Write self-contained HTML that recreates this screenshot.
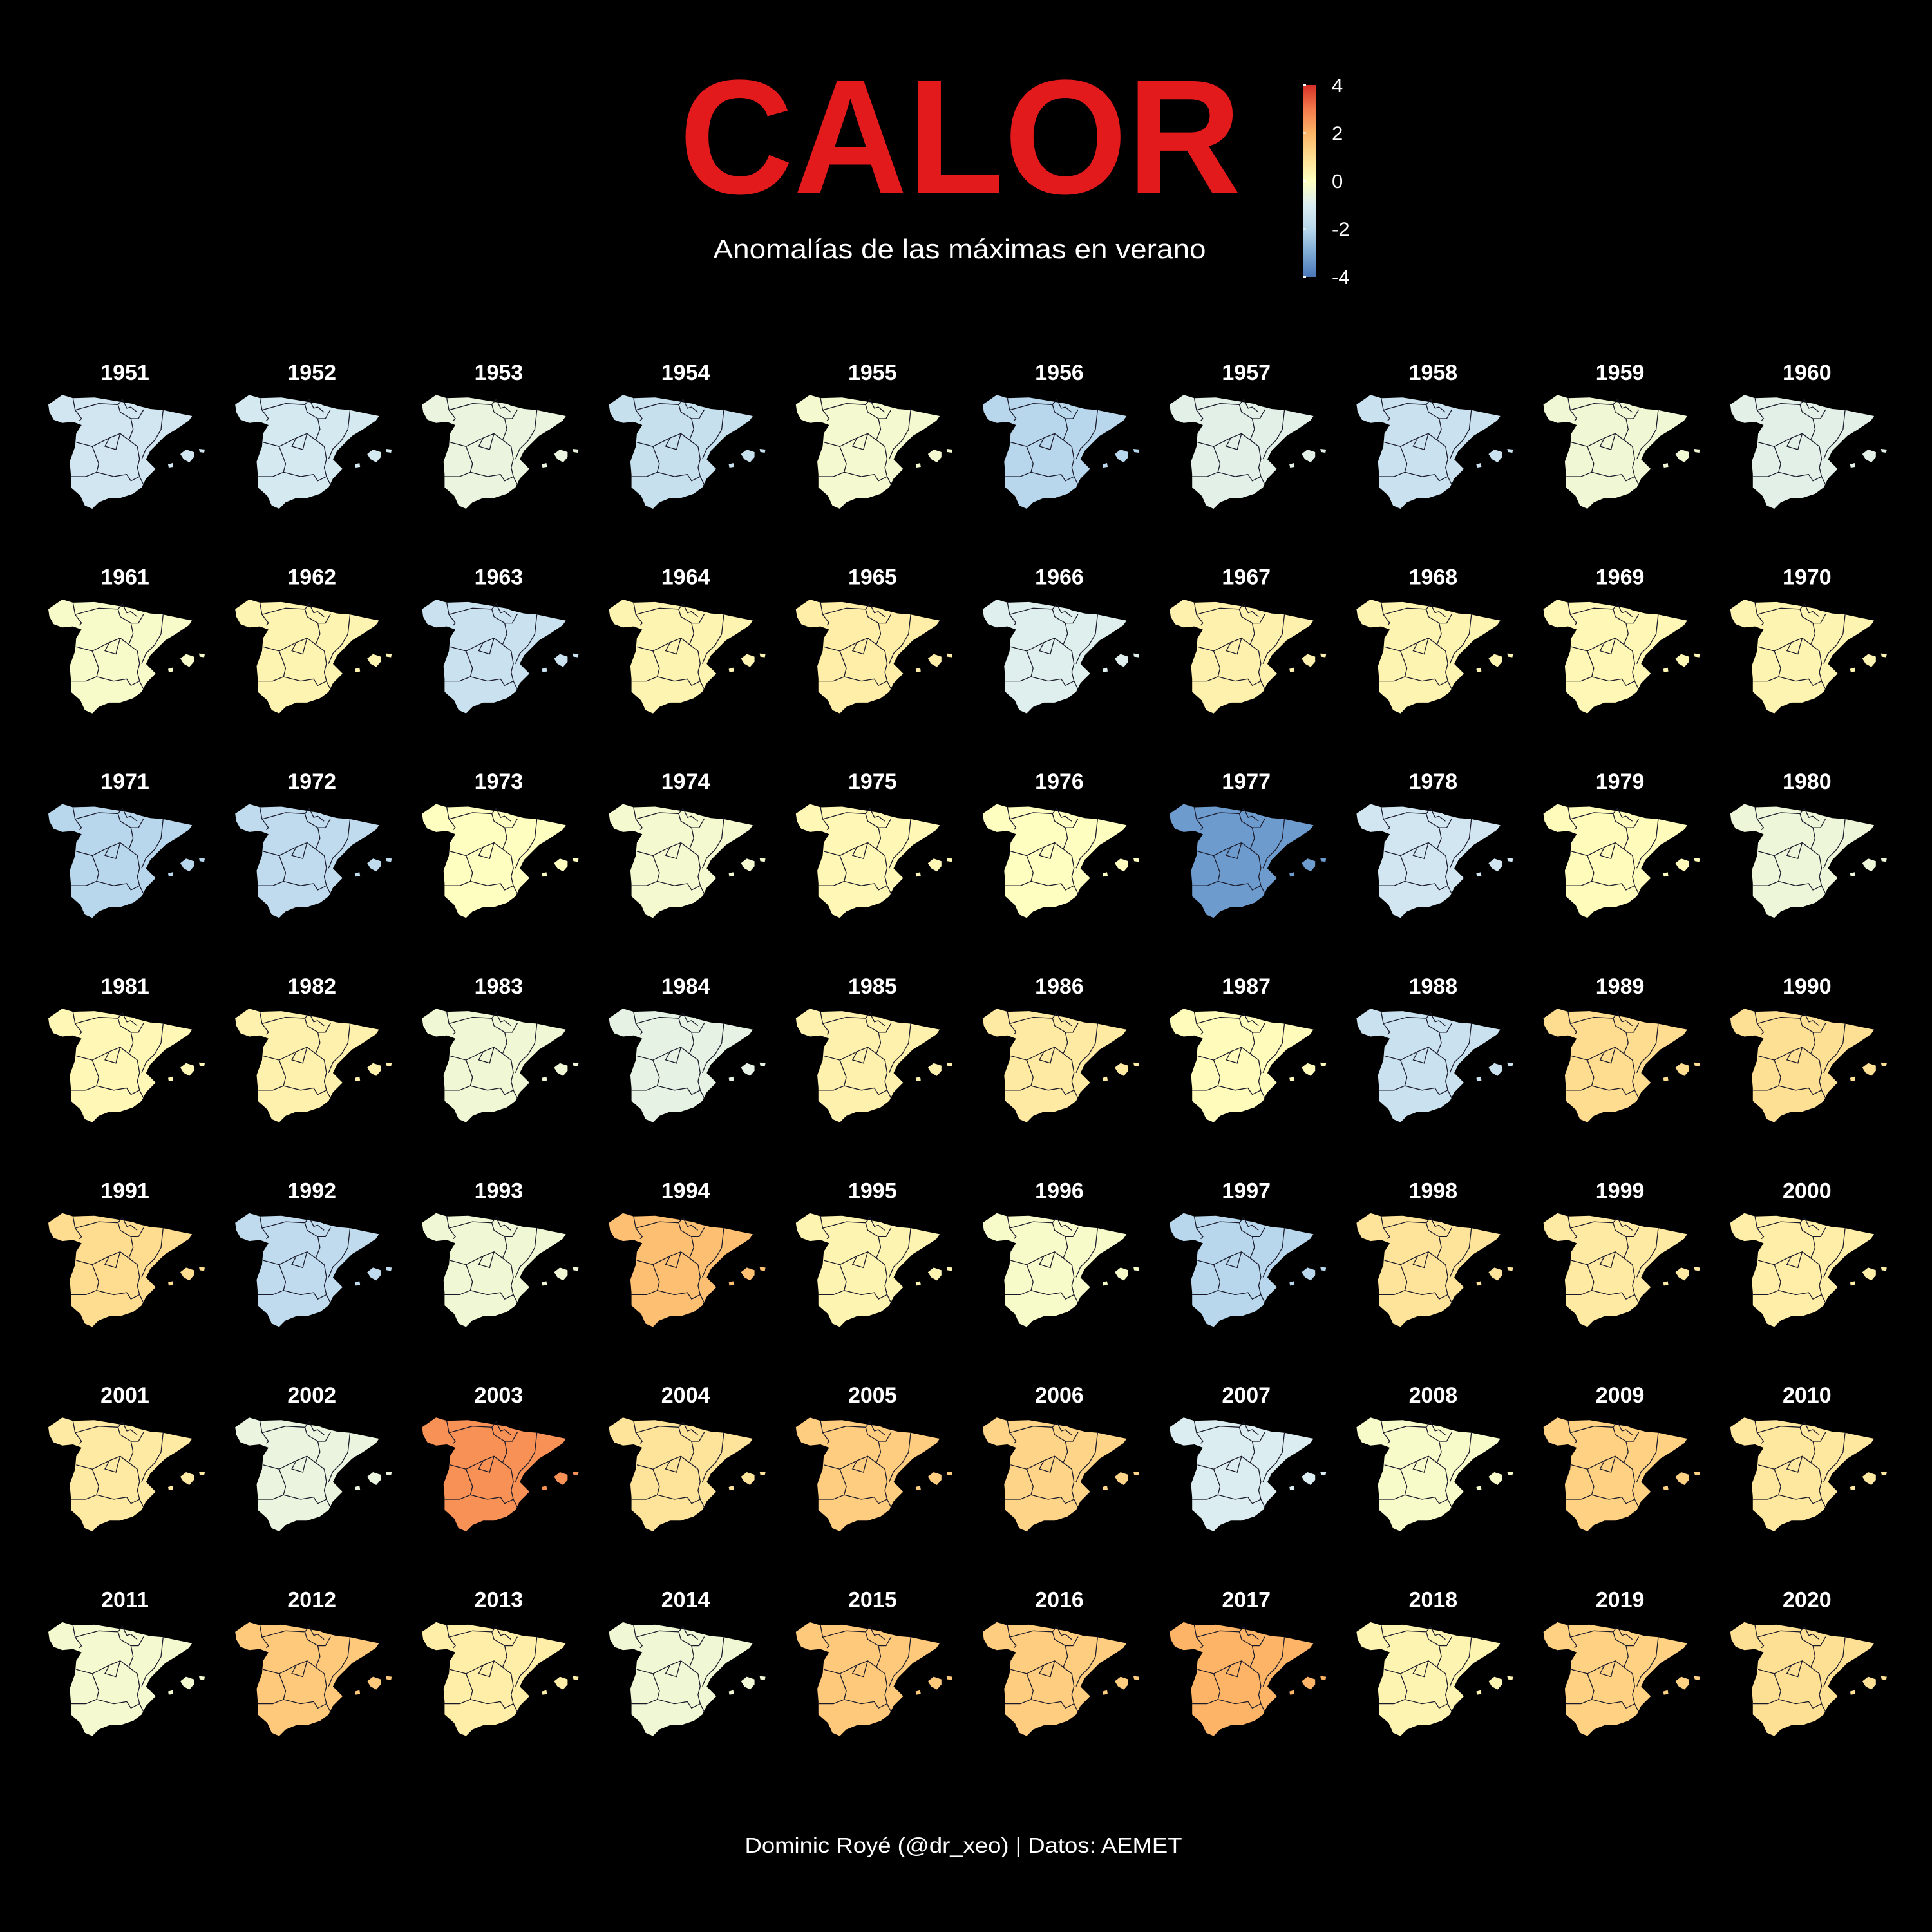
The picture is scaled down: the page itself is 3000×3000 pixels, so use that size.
<!DOCTYPE html>
<html><head><meta charset="utf-8">
<style>
html,body{margin:0;padding:0;background:#000;}
svg{display:block;}
</style></head>
<body>
<svg id="chart" width="3000" height="3000" viewBox="0 0 3000 3000" xmlns="http://www.w3.org/2000/svg">
<rect x="0" y="0" width="3000" height="3000" fill="#000"/>
<defs>
<linearGradient id="cbar" x1="0" y1="1" x2="0" y2="0">
<stop offset="0" stop-color="#4a78b8"/>
<stop offset="0.125" stop-color="#7eaad6"/>
<stop offset="0.25" stop-color="#b8d7ec"/>
<stop offset="0.375" stop-color="#dcedf2"/>
<stop offset="0.5" stop-color="#fefec0"/>
<stop offset="0.625" stop-color="#fedd90"/>
<stop offset="0.75" stop-color="#fdb466"/>
<stop offset="0.875" stop-color="#f47a4c"/>
<stop offset="1" stop-color="#d73027"/>
</linearGradient>
</defs>
<text x="1491" y="300" font-family="Liberation Sans, sans-serif" font-weight="bold" font-size="253" fill="#e31a1c" text-anchor="middle" textLength="873" lengthAdjust="spacingAndGlyphs">CALOR</text>
<text x="1490" y="401" font-family="Liberation Sans, sans-serif" font-size="42" fill="#fff" text-anchor="middle" textLength="765" lengthAdjust="spacingAndGlyphs">Anomalías de las máximas en verano</text>
<g id="legend">
<rect x="2024" y="132" width="19" height="298" fill="url(#cbar)"/>
</g>
<g id="maps"></g>
<text x="1496" y="2877" font-family="Liberation Sans, sans-serif" font-size="33" fill="#fff" text-anchor="middle" textLength="679" lengthAdjust="spacingAndGlyphs">Dominic Royé (@dr_xeo) | Datos: AEMET</text>
</svg>
<script>
const years = [1951,1952,1953,1954,1955,1956,1957,1958,1959,1960,
1961,1962,1963,1964,1965,1966,1967,1968,1969,1970,
1971,1972,1973,1974,1975,1976,1977,1978,1979,1980,
1981,1982,1983,1984,1985,1986,1987,1988,1989,1990,
1991,1992,1993,1994,1995,1996,1997,1998,1999,2000,
2001,2002,2003,2004,2005,2006,2007,2008,2009,2010,
2011,2012,2013,2014,2015,2016,2017,2018,2019,2020];
const anomalies = [-1.3,-1.2,-0.6,-1.6,-0.3,-2.0,-0.8,-1.5,-0.4,-0.8,
-0.2,0.3,-1.5,0.3,0.5,-0.9,0.4,0.3,0.2,0.3,
-2.0,-1.8,0.0,-0.3,0.2,0.0,-3.3,-1.3,0.1,-0.5,
0.2,0.4,-0.4,-0.7,0.4,0.6,0.1,-1.5,1.0,0.9,
1.0,-1.8,-0.4,1.7,0.3,-0.2,-2.0,0.8,0.6,0.5,
0.6,-0.6,2.6,0.8,1.4,1.2,-1.0,-0.2,1.3,0.7,
-0.3,1.5,0.5,-0.4,1.5,1.4,2.0,0.3,1.3,0.9];
const legendTicks = [4,2,0,-2,-4];
const scaleMin = -4, scaleMax = 4;

const NS = 'http://www.w3.org/2000/svg';
const stops = ['#4a78b8','#7eaad6','#b8d7ec','#dcedf2','#fefec0','#fedd90','#fdb466','#f47a4c','#d73027'];
function hex(c){return [1,3,5].map(i=>parseInt(c.substr(i,2),16));}
function colorFor(v){
  let t=(Math.max(scaleMin,Math.min(scaleMax,v))-scaleMin)/(scaleMax-scaleMin)*(stops.length-1);
  let i=Math.min(Math.floor(t),stops.length-2), f=t-i;
  let a=hex(stops[i]), b=hex(stops[i+1]);
  return 'rgb('+a.map((x,k)=>Math.round(x+(b[k]-x)*f)).join(',')+')';
}
const cbTop=132, cbBot=430;
function cbY(v){return cbBot-(v-scaleMin)/(scaleMax-scaleMin)*(cbBot-cbTop);}
const leg=document.getElementById('legend');
legendTicks.forEach(v=>{
  const t=document.createElementNS(NS,'text');
  t.setAttribute('x',2068);t.setAttribute('y',cbY(v)+11);
  t.setAttribute('font-family','Liberation Sans, sans-serif');t.setAttribute('font-size','31');
  t.setAttribute('fill','#fff');t.textContent=v;
  
  
  leg.appendChild(t);
  const l=document.createElementNS(NS,'line');
  l.setAttribute('x1',2024);l.setAttribute('x2',2028);l.setAttribute('y1',cbY(v));l.setAttribute('y2',cbY(v));
  l.setAttribute('stroke','#fff');l.setAttribute('stroke-width','2');
  
  
  leg.appendChild(l);
});
const outline=[[0,16.3],[21.7,1.3],[38.3,6.3],[71.7,5.3],[108.3,11.3],[131.7,15.3],[138.3,18],[158.3,23],[178.3,24.7],[201.7,29.7],[223.3,34],[218.3,41.3],[198.3,54.7],[181.7,64.7],[168.3,78],[158.3,88],[151.7,101.3],[166.7,116.3],[151.7,131.3],[145,144.7],[131.7,154.7],[111.7,161.3],[95,161.3],[78.3,168],[68.3,178],[56.7,173],[50,158],[35,144.7],[35,124.7],[33.3,104.7],[41.7,81.3],[43.3,61.3],[51.7,48],[38.3,43],[21.7,44.7],[8.3,39.7],[1.7,28]];
const islands=[[[205,93],[214,86],[226,90],[226,98],[219,106],[210,101]],[[234,85],[243,86],[242,91],[235,90]],[[186,109],[193,107],[194,113],[187,114]]];
const borders=[
[[38.3,6.3],[41.7,24.7],[51.7,38],[48.3,41.3]],
[[41.7,24.7],[78.3,14.7],[108.3,16.3],[111.7,28],[128.3,38]],
[[128.3,38],[131.7,54.7],[125,71.3],[138.3,81.3]],
[[43.3,74.7],[68.3,81.3],[95,68],[111.7,61.3],[125,71.3]],
[[95,68],[88,81],[105,86],[108,74],[111.7,61.3]],
[[68.3,81.3],[78.3,108],[75,121.3],[58.3,128],[35,128]],
[[75,121.3],[101.7,128],[121.7,124.7],[128.3,134.7],[141.7,128],[148.3,141.3]],
[[138.3,81.3],[141.7,101],[138.3,114],[141.7,128]],
[[148,24],[140,38],[128.3,38]],
[[178.3,24.7],[175,55],[165,72],[151.7,85],[145,101]],
[[108.3,16.3],[115,8],[122,22],[128,20],[138,28]]
];
const pts=a=>a.map(p=>p.join(',')).join(' ');
const mapsG=document.getElementById('maps');
years.forEach((yr,i)=>{
  const col=i%10,row=Math.floor(i/10);
  const ox=75+col*290.2, oy=612+row*317.6;
  const g=document.createElementNS(NS,'g');
  g.setAttribute('transform','translate('+ox+','+oy+')');
  
  
  const c=colorFor(anomalies[i]);
  const lab=document.createElementNS(NS,'text');
  lab.setAttribute('x',119);lab.setAttribute('y',-22);lab.setAttribute('text-anchor','middle');
  lab.setAttribute('font-family','Liberation Sans, sans-serif');lab.setAttribute('font-weight','bold');
  lab.setAttribute('font-size','34');lab.setAttribute('fill','#fff');lab.textContent=yr;
  
  
  g.appendChild(lab);
  const p=document.createElementNS(NS,'polygon');
  p.setAttribute('points',pts(outline));p.setAttribute('fill',c);
  
  
  g.appendChild(p);
  islands.forEach(isl=>{
    const q=document.createElementNS(NS,'polygon');
    q.setAttribute('points',pts(isl));q.setAttribute('fill',c);
    
    
    g.appendChild(q);
  });
  borders.forEach(b=>{
    const l=document.createElementNS(NS,'polyline');
    l.setAttribute('points',pts(b));l.setAttribute('fill','none');
    l.setAttribute('stroke','#1a1a2a');l.setAttribute('stroke-width','1.3');
    
    
    g.appendChild(l);
  });
  mapsG.appendChild(g);
});
</script>
</body></html>
